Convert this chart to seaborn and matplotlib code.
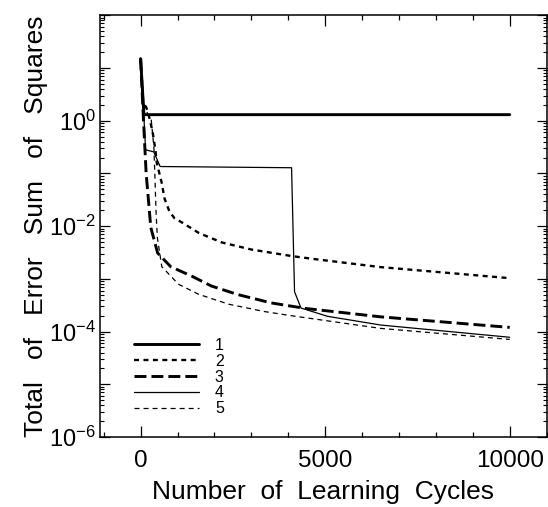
import matplotlib
matplotlib.use("Agg")
import numpy as np
import pandas as pd
import seaborn as sns
from matplotlib import pyplot as plt
from matplotlib import ticker

# values (learning cycles, total error sum of squares)
runs = ["1", "2", "3", "4", "5"]

cycles_1 = [0, 90, 10000]
sse_1 = [15, 1.3, 1.3]

cycles_2 = [0, 70, 150, 200, 320, 400, 440, 570, 650, 780, 915, 1140, 1580, 2200, 3000, 4100, 4650, 6500, 10000]
sse_2 = [15, 2.2, 1.8, 1.45, 0.64, 0.28, 0.156, 0.067, 0.033, 0.019, 0.0142, 0.0115, 0.0074, 0.0049, 0.0036,
         0.0027, 0.0024, 0.00167, 0.00103]

cycles_3 = [0, 50, 100, 150, 200, 276, 403, 460, 815, 1380, 1920, 2650, 3535, 4460, 6516, 10000]
sse_3 = [15, 2.6, 0.5, 0.1, 0.039, 0.0094, 0.0044, 0.0031, 0.0017, 0.00113, 0.00073, 0.0005, 0.00035,
         0.000275, 0.00019, 0.00012]

cycles_4 = [0, 70, 134, 357, 530, 4090, 4170, 4345, 5060, 6508, 10000]
sse_4 = [15, 2.2, 0.28, 0.256, 0.135, 0.128, 5.7e-4, 2.8e-4, 1.95e-4, 1.33e-4, 7.8e-5]

cycles_5 = [0, 70, 200, 283, 359, 390, 418, 452, 574, 1026, 1570, 2388, 3351, 4083, 6502, 10000]
sse_5 = [15, 2.2, 1.3, 1.12, 0.316, 0.078, 0.019, 0.0062, 0.0017, 7.9e-4, 5.1e-4, 3.3e-4, 2.4e-4, 2.0e-4,
         1.15e-4, 7.1e-5]

df = pd.concat([
    pd.DataFrame({"cycles": c, "sse": s, "run": r})
    for r, c, s in zip(runs, [cycles_1, cycles_2, cycles_3, cycles_4, cycles_5],
                       [sse_1, sse_2, sse_3, sse_4, sse_5])
], ignore_index=True)

sns.set_theme(style="ticks")
plt.rcParams.update({
    "font.family": ["Liberation Sans", "DejaVu Sans"],
    "mathtext.fontset": "custom",
    "mathtext.rm": "Liberation Sans",
    "mathtext.it": "Liberation Sans:italic",
    "mathtext.bf": "Liberation Sans:bold",
    "lines.scale_dashes": False,
    "axes.linewidth": 1.1,
    "axes.edgecolor": "black",
    "text.color": "black",
    "axes.labelcolor": "black",
    "xtick.color": "black",
    "ytick.color": "black",
})

fig = plt.figure(figsize=(5.48, 5.07), dpi=100)
ax = fig.add_axes([0.1825, 0.138, 0.815, 0.832])

dash_map = {"1": "", "2": (3.6, 3.2), "3": (8.6, 3.6), "4": "", "5": (3.6, 2.9)}
width_map = {"1": 2.1, "2": 1.7, "3": 2.1, "4": 0.9, "5": 0.9}

sns.lineplot(data=df, x="cycles", y="sse", hue="run", style="run", size="run",
             hue_order=runs, style_order=runs, size_order=runs,
             palette={r: "black" for r in runs}, dashes=dash_map, sizes=width_map,
             estimator=None, sort=False, legend=False, ax=ax)

ax.set_yscale("log")
ax.set_ylim(1e-6, 1e2)
ax.set_xlim(-1100, 11000)

ax.yaxis.set_major_locator(ticker.LogLocator(base=10, subs=(1.0,), numticks=20))
ax.yaxis.set_minor_locator(ticker.LogLocator(base=10, subs=np.arange(2, 10), numticks=20))


def decade_label(v, pos):
    e = int(round(np.log10(v)))
    if e % 2 == 0 and e <= 0:
        return r"$\mathregular{10^{%d}}$" % e
    return ""


ax.yaxis.set_major_formatter(ticker.FuncFormatter(decade_label))
ax.yaxis.set_minor_formatter(ticker.NullFormatter())
ax.xaxis.set_major_locator(ticker.MultipleLocator(5000))
ax.xaxis.set_minor_locator(ticker.MultipleLocator(1000))

ax.tick_params(which="both", direction="in", top=True, right=True)
ax.tick_params(axis="x", which="major", length=8, width=0.9, labelsize=17.5, pad=9)
ax.tick_params(axis="x", which="minor", length=3.6, width=0.9)
ax.tick_params(axis="y", which="major", length=7, width=0.9, labelsize=17, pad=3)
ax.tick_params(axis="y", which="minor", length=3, width=0.8)

ax.set_xlabel("Number  of  Learning  Cycles", fontsize=19, labelpad=6)
ax.set_ylabel("Total   of   Error   Sum   of   Squares", fontsize=19, labelpad=1)

ax.legend(ax.lines[:5], runs, loc="center left", bbox_to_anchor=(0.076, 0.142), frameon=False,
          fontsize=11.5, handlelength=4.07, handletextpad=1.0, labelspacing=0.05,
          borderpad=0, borderaxespad=0)

fig.savefig("out.png", dpi=100)
